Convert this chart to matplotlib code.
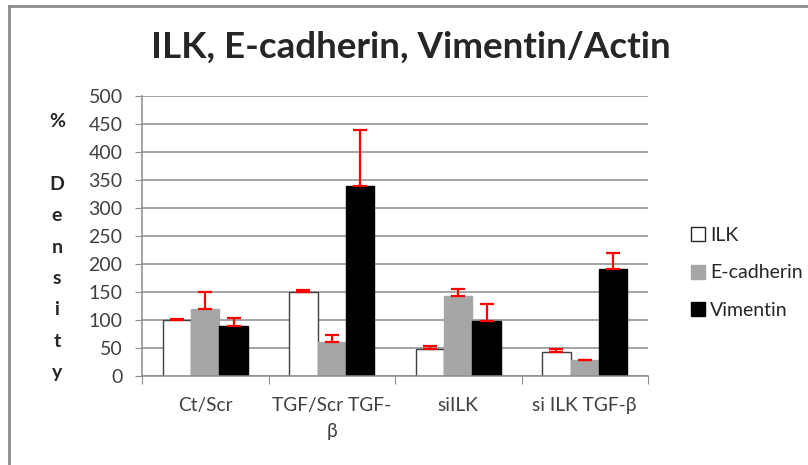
import numpy as np
import matplotlib.pyplot as plt
from matplotlib.lines import Line2D

plt.rcParams['font.family'] = ['Lato', 'DejaVu Sans']

groups = ["Ct/Scr", "TGF/Scr TGF-\nβ", "siILK", "si ILK TGF-β"]
ilk = [100, 150, 49, 43]
ilk_err = [2, 3, 4, 5]
ecad = [120, 60, 143, 28]
ecad_err = [30, 14, 12, 1]
vim = [90, 340, 99, 191]
vim_err = [13, 100, 29, 29]

fig = plt.figure(figsize=(8.08, 4.65), dpi=100)
ax = fig.add_axes([142/808, 1-376/465, (648-142)/808, 280/465])

x = np.arange(len(groups))
w = 0.224
ekw = dict(ecolor='#ff0000', elinewidth=1.6, capsize=5, capthick=1.6)
series = [(ilk, ilk_err, 'white', '#404040', 'ILK'),
          (ecad, ecad_err, '#a6a6a6', '#a6a6a6', 'E-cadherin'),
          (vim, vim_err, 'black', 'black', 'Vimentin')]
for k, (vals, err, fc, ec, lab) in enumerate(series):
    ax.bar(x + (k-1)*w, vals, w, color=fc, edgecolor=ec, linewidth=1.0,
           yerr=[np.zeros(len(err)), err], error_kw=ekw, label=lab, zorder=2)

ax.set_xlim(-0.5, 3.5)
ax.set_ylim(0, 500)
ax.set_yticks(np.arange(0, 501, 50))
ax.yaxis.grid(True, color='#8c8c8c', linewidth=1.1, zorder=0)
ax.set_axisbelow(True)
for s in ['top', 'right']:
    ax.spines[s].set_visible(False)
for s in ['left', 'bottom']:
    ax.spines[s].set_color('#8c8c8c')
    ax.spines[s].set_linewidth(1.1)
ax.tick_params(axis='y', length=5, color='#8c8c8c', labelsize=14,
               labelcolor='#404040', pad=9)
ax.set_xticks(np.arange(-0.5, 3.6, 1))
ax.set_xticklabels([])
ax.tick_params(axis='x', length=6, color='#8c8c8c')
for i, g in enumerate(groups):
    ax.text(i, -38, g, ha='center', va='top', fontsize=13.8,
            color='#404040', linespacing=1.6)

fig.text(0.508, 1-47/465, "ILK, E-cadherin, Vimentin/Actin", ha='center',
         va='center', fontsize=26.5, fontweight='bold', color='#262626')
fig.text(57/808, 1-247/465, "%\n\nD\ne\nn\ns\ni\nt\ny", ha='center', va='center',
         fontsize=14, fontweight='bold', color='#262626', linespacing=2.03)

handles = [Line2D([], [], marker='s', linestyle='none', markersize=10,
                  markerfacecolor=fc, markeredgecolor=ec if fc != 'white' else '#262626')
           for _, _, fc, ec, _ in series]
fig.legend(handles, [s[4] for s in series], loc='center left',
           bbox_to_anchor=(670/808, 1-273/465), frameon=False, fontsize=14,
           labelspacing=1.07, handletextpad=0.05, handlelength=1.1,
           labelcolor='#262626')

fig.add_artist(Line2D([9/808, 1], [1-6/465, 1-6/465], color='#8c8c8c', linewidth=2))
fig.add_artist(Line2D([9/808, 9/808], [0, 1-6/465], color='#8c8c8c', linewidth=2))

fig.savefig('out.png', dpi=100, facecolor='white')
